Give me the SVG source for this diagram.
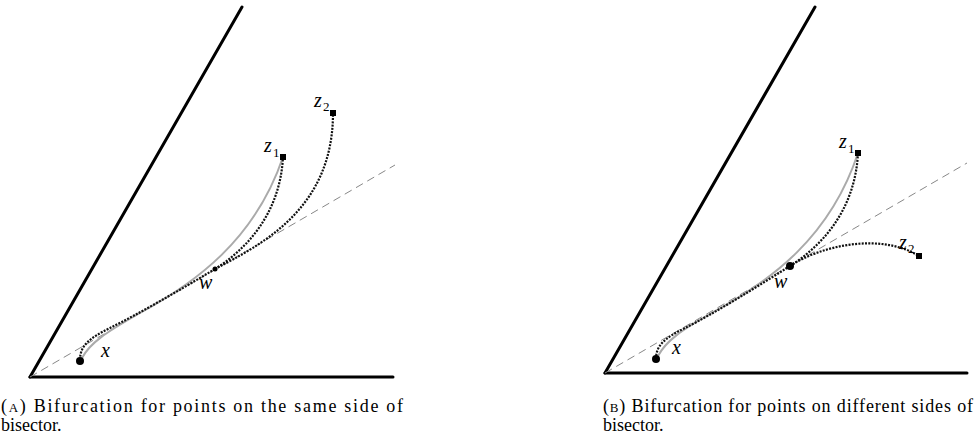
<svg xmlns="http://www.w3.org/2000/svg" width="976" height="443" viewBox="0 0 976 443">
<style>
.axis{stroke:#000;stroke-width:3;fill:none;stroke-linecap:round}
.bis{stroke:#888;stroke-width:1;fill:none;stroke-dasharray:8 5}
.gray{stroke:#aaa;stroke-width:2;fill:none}
.dot{stroke:#111;stroke-width:2.2;fill:none;stroke-dasharray:2 1.3}
.lbl{font-family:"Liberation Serif",serif;font-style:italic;font-size:20px;fill:#000}
.sub{font-family:"Liberation Serif",serif;font-size:13px;fill:#000}
.cap{font-family:"Liberation Serif",serif;font-size:18px;fill:#000}
</style>
<rect width="976" height="443" fill="#fff"/>
<g id="panelA">
  <g id="A-wedge">
    <line class="axis" x1="30" y1="377" x2="393" y2="377"/>
    <line class="axis" x1="30" y1="377" x2="242" y2="7"/>
    <line class="bis" x1="30" y1="377" x2="395" y2="165"/>
  </g>
  <g id="A-connectors">
    <path class="gray" d="M82,358 C90,343 105,333 140,313 C195,283 255,240 283,157"/>
    <path class="dot" d="M80,360 C80,345 90,338 110,328 C140,313 180,290 215,269"/>
    <path class="dot" d="M215,269 C245,250 280,215 283,157"/>
    <path class="dot" d="M215,269 C260,245 333,210 333,113"/>
  </g>
  <g id="A-x"><circle cx="80" cy="361" r="4"/><text class="lbl" x="101" y="357">x</text></g>
  <g id="A-w"><circle cx="215" cy="269" r="2.5"/><text class="lbl" x="199" y="289">w</text></g>
  <g id="A-z1"><rect x="280" y="154" width="6" height="6"/><text class="lbl" x="264" y="152">z</text><text class="sub" x="273" y="157">1</text></g>
  <g id="A-z2"><rect x="330" y="110" width="6" height="6"/><text class="lbl" x="314" y="107">z</text><text class="sub" x="323" y="111">2</text></g>
</g>
<g id="panelB">
  <g id="B-wedge">
    <line class="axis" x1="605" y1="373" x2="967" y2="373"/>
    <line class="axis" x1="605" y1="373" x2="815" y2="7"/>
    <line class="bis" x1="605" y1="373" x2="967" y2="163"/>
  </g>
  <g id="B-connectors">
    <path class="gray" d="M658,356 C666,341 680,331 715,311 C770,281 830,238 858,153"/>
    <path class="dot" d="M656,359 C656,345 665,338 685,328 C715,313 755,288 790,266"/>
    <path class="dot" d="M790,266 C820,247 855,212 858,153"/>
    <path class="dot" d="M790,266 C820,246 880,232 919,256"/>
  </g>
  <g id="B-x"><circle cx="656" cy="359" r="4"/><text class="lbl" x="672" y="354">x</text></g>
  <g id="B-w"><circle cx="790" cy="266" r="4"/><text class="lbl" x="774" y="288">w</text></g>
  <g id="B-z1"><rect x="855" y="150" width="6" height="6"/><text class="lbl" x="839" y="148">z</text><text class="sub" x="848" y="153">1</text></g>
  <g id="B-z2"><rect x="916" y="253" width="6" height="6"/><text class="lbl" x="899" y="249">z</text><text class="sub" x="908" y="253">2</text></g>
</g>
<g id="captions">
  <text class="cap" x="1" y="412" textLength="402">(<tspan font-size="13">A</tspan>) Bifurcation for points on the same side of</text>
  <text class="cap" x="1" y="431">bisector.</text>
  <text class="cap" x="603" y="412" textLength="370">(<tspan font-size="13">B</tspan>) Bifurcation for points on different sides of</text>
  <text class="cap" x="603" y="431">bisector.</text>
</g>
</svg>
